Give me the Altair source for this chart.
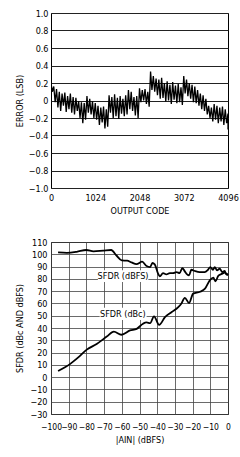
import altair as alt
import pandas as pd

FONT = "Liberation Sans Narrow, Arial Narrow, DejaVu Sans Condensed, sans-serif"

# ---------------- top panel: error vs output code ----------------
codes = [0, 64, 128, 192, 256, 320, 384, 448, 512, 576, 640, 704, 768, 832, 896, 960,
         1024, 1088, 1152, 1216, 1280, 1344, 1408, 1472, 1536, 1600, 1664, 1728, 1792,
         1856, 1920, 1984, 2048, 2112, 2176, 2240, 2304, 2368, 2432, 2496, 2560, 2624,
         2688, 2752, 2816, 2880, 2944, 3008, 3072, 3136, 3200, 3264, 3328, 3392, 3456,
         3520, 3584, 3648, 3712, 3776, 3840, 3904, 3968, 4032, 4096]
err_hi = [0.20, 0.16, 0.13, 0.10, 0.08, 0.09, 0.05, 0.08, 0.04, 0.03, -0.01, -0.02, -0.03,
          0.05, 0.02, -0.01, -0.03, -0.06, -0.08, -0.07, -0.10,
          0.06, 0.04, 0.07, 0.03, 0.05, 0.02, 0.06, 0.12, 0.10, 0.04, 0.05,
          0.14, 0.12, 0.13, 0.10,
          0.33, 0.28, 0.25, 0.24, 0.26, 0.20, 0.22, 0.18, 0.21, 0.17, 0.19, 0.15,
          0.28, 0.24, 0.20, 0.18, 0.16, 0.12, 0.08, 0.06, 0.02,
          -0.06, -0.08, -0.04, -0.06, -0.08, -0.07, -0.10, -0.15]
err_lo = [0.10, -0.02, -0.08, -0.12, -0.06, -0.13, -0.10, -0.14, -0.16, -0.12, -0.20, -0.26, -0.22,
          -0.14, -0.16, -0.20, -0.22, -0.28, -0.25, -0.32, -0.30,
          -0.14, -0.20, -0.18, -0.21, -0.15, -0.18, -0.16, -0.10, -0.12, -0.17, -0.20,
          -0.02, 0.00, -0.04, -0.07,
          0.12, 0.10, 0.06, 0.02, 0.03, -0.01, 0.00, -0.04, 0.01, -0.03, -0.02, -0.05,
          0.08, 0.05, 0.02, -0.02, -0.03, -0.06, -0.10, -0.12, -0.16,
          -0.20, -0.24, -0.22, -0.26, -0.24, -0.28, -0.26, -0.33]
top_y_ticks = [-1.0, -0.8, -0.6, -0.4, -0.2, 0.0, 0.2, 0.4, 0.6, 0.8, 1.0]
top_x_ticks = [0, 1024, 2048, 3072, 4096]

rows = []
k = 0
for c, h, l in zip(codes, err_hi, err_lo):
    rows.append({"code": c, "err": h, "idx": k}); k += 1
    rows.append({"code": min(c + 32, 4096), "err": l, "idx": k}); k += 1
top_df = pd.DataFrame(rows)

top = alt.Chart(top_df).mark_line(color="black", strokeWidth=1.3, clip=True).encode(
    x=alt.X("code:Q", scale=alt.Scale(domain=[0, 4096], nice=False),
            axis=alt.Axis(values=top_x_ticks, title="OUTPUT CODE", grid=False, format="d",
                          ticks=False, tickSize=0, domain=False, labelFlush=False,
                          labelOverlap=False, labelPadding=5, titlePadding=4)),
    y=alt.Y("err:Q", scale=alt.Scale(domain=[-1, 1], nice=False),
            axis=alt.Axis(values=top_y_ticks, title="ERROR (LSB)", grid=True,
                          gridColor="#222", gridWidth=1, ticks=False, tickSize=0,
                          domain=False, labelPadding=3, titlePadding=4, labelOverlap=False,
                          labelExpr="datum.value == 0 ? '0' : format(datum.value, '.1f')")),
    order="idx:Q",
).properties(width=177, height=175)

# ---------------- bottom panel: SFDR vs input amplitude ----------------
dbfs_x = [-96, -91, -85.5, -80, -76, -70.5, -66, -63, -60, -57, -54.5, -51.7, -48.5, -46, -44,
          -42.7, -41.4, -39.5, -38.5, -36.7, -34.8, -32.9, -31, -29.1, -27.3, -25.8, -24.4,
          -23.1, -22, -20.7, -18.8, -16, -13.2, -11.3, -10, -8.5, -7.5, -6.2, -4.7, -3.2,
          -1.9, -0.9, 0]
dbfs_y = [101.5, 101.2, 102, 103.5, 102.4, 103, 103.5, 99, 95, 94.8, 93.4, 92, 94, 90.4, 89.6,
          92.9, 91.8, 84.2, 82, 84.7, 83.6, 84.7, 84.7, 85.5, 84.7, 88.8, 86.1,
          83.6, 82.8, 87.4, 86.4, 85.5, 85.5, 87.4, 89.6, 87.4, 89.6, 86.9, 88.3, 85.5,
          86.4, 83.6, 84.2]
dbc_x = [-96, -89.3, -84.6, -79.8, -74.2, -68.5, -64.5, -60.2, -55.4, -51.6, -48, -46, -44,
         -41.8, -38.9, -35.6, -31.8, -28.1, -26.3, -24.4, -22, -19.7, -15.8, -13, -10.2,
         -8.3, -7.1, -5.5, -3.6, -1.7, -0.8, 0]
dbc_y = [5, 10.6, 16.1, 22.4, 27, 33, 37, 34.5, 38, 39.3, 43.5, 44.5, 44,
         49.5, 42.5, 48.8, 53, 57, 60, 64.6, 60.3, 68, 69.5, 72, 78.9,
         81, 78, 82.5, 84, 85, 83.8, 83]
bot_x_ticks = [-100, -90, -80, -70, -60, -50, -40, -30, -20, -10, 0]
bot_y_ticks = [-30, -20, -10, 0, 10, 20, 30, 40, 50, 60, 70, 80, 90, 100, 110]

label_text = ["SFDR (dBFS)", "SFDR (dBc)"]
label_x = [-59.3, -59.4]
label_y = [82.2, 51.4]
box_x1 = [-73.5, -72.5]
box_x2 = [-45.0, -46.0]
box_y1 = [77.5, 46.5]
box_y2 = [87.0, 56.5]

sfdr_df = pd.DataFrame(
    [{"a": x, "v": y, "s": "dBFS"} for x, y in zip(dbfs_x, dbfs_y)]
    + [{"a": x, "v": y, "s": "dBc"} for x, y in zip(dbc_x, dbc_y)]
)
lab_df = pd.DataFrame({"t": label_text, "x": label_x, "y": label_y,
                       "x1": box_x1, "x2": box_x2, "y1": box_y1, "y2": box_y2})

xs = alt.Scale(domain=[-100, 0], nice=False)
ys = alt.Scale(domain=[-30, 110], nice=False)
xax = alt.Axis(values=bot_x_ticks, title="|AIN| (dBFS)", grid=True, gridColor="#444",
               gridWidth=0.8, ticks=False, tickSize=0, domain=False, labelFlush=False,
               labelOverlap=False, labelPadding=8, titlePadding=5, labelFontSize=8.5)
yax = alt.Axis(values=bot_y_ticks, title="SFDR (dBc AND dBFS)", grid=True, gridColor="#444",
               gridWidth=0.8, ticks=False, tickSize=0, domain=False, labelPadding=4,
               labelOverlap=False, titlePadding=5)

boxes = alt.Chart(lab_df).mark_rect(color="white").encode(
    x=alt.X("x1:Q", scale=xs, axis=xax), x2="x2:Q",
    y=alt.Y("y1:Q", scale=ys, axis=yax), y2="y2:Q",
)
lines = alt.Chart(sfdr_df).mark_line(color="black", strokeWidth=1.8,
                                     interpolate="monotone").encode(
    x=alt.X("a:Q", scale=xs, axis=xax),
    y=alt.Y("v:Q", scale=ys, axis=yax),
    detail="s:N",
)
texts = alt.Chart(lab_df).mark_text(font=FONT, fontSize=9, color="black").encode(
    x=alt.X("x:Q", scale=xs, axis=xax), y=alt.Y("y:Q", scale=ys, axis=yax), text="t:N",
)
bottom = alt.layer(boxes, lines, texts).properties(width=177, height=172)

chart = alt.vconcat(top, bottom, spacing=21).properties(
    padding={"left": 14, "top": 8, "right": 0, "bottom": 0},
    background="white",
).configure_view(stroke="black", strokeWidth=1).configure_axis(
    labelFont=FONT, titleFont=FONT, labelFontSize=9, titleFontSize=9,
    titleFontWeight="normal", labelColor="black", titleColor="black",
)

chart.save("out.html", embed_options={"renderer": "svg", "actions": False})
